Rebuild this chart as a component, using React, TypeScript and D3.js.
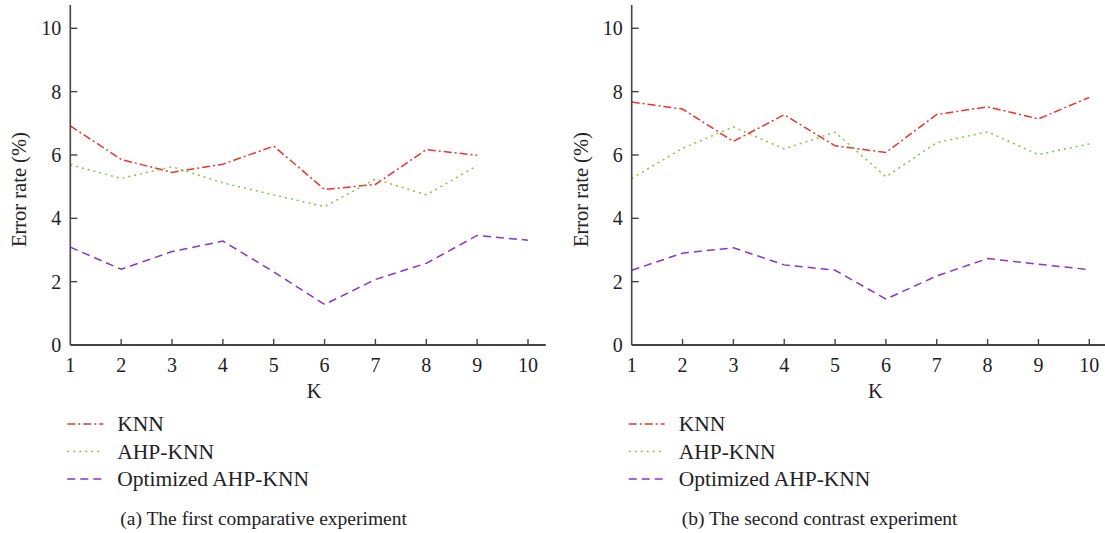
import React from "react";
import * as d3 from "d3";

// K values on the x axis
const ks = [1, 2, 3, 4, 5, 6, 7, 8, 9, 10];
const yTicks = [0, 2, 4, 6, 8, 10];

// (a) first comparative experiment
const knnA = [6.92, 5.86, 5.45, 5.71, 6.28, 4.91, 5.07, 6.17, 5.99];
const ahpA = [5.69, 5.26, 5.63, 5.12, 4.74, 4.37, 5.24, 4.74, 5.66];
const optA = [3.09, 2.39, 2.95, 3.28, 2.31, 1.28, 2.07, 2.58, 3.46, 3.31];

// (b) second contrast experiment
const knnB = [7.67, 7.45, 6.43, 7.27, 6.29, 6.08, 7.28, 7.52, 7.14, 7.82];
const ahpB = [5.26, 6.21, 6.89, 6.19, 6.72, 5.31, 6.39, 6.73, 6.01, 6.35];
const optB = [2.36, 2.9, 3.07, 2.53, 2.36, 1.45, 2.18, 2.73, 2.55, 2.38];

const seriesNames = ["KNN", "AHP-KNN", "Optimized AHP-KNN"];
const seriesColors = ["#e8352b", "#86c23a", "#8a35c8"];
const seriesDash = ["8,3,2,3", "2,4", "8,5"];

const font = "'Liberation Serif', 'Times New Roman', serif";
const axisColor = "#444";
const textColor = "#222";

function Panel({ left, right, data, caption }) {
  const top = 28.3;
  const bottom = 345;
  const x = d3.scaleLinear().domain([1, 10]).range([left, right]);
  const y = d3.scaleLinear().domain([0, 10]).range([bottom, top]);
  const axisEnd = right + (right - left) / 9 * 0.35;
  const line = d3
    .line<number>()
    .x((_, i) => x(ks[i]))
    .y((d) => y(d));

  return (
    <g>
      {data.map((vals, s) => (
        <path
          key={s}
          d={line(vals) || ""}
          fill="none"
          stroke={seriesColors[s]}
          strokeWidth={1.5}
          strokeDasharray={seriesDash[s]}
        />
      ))}
      {/* axes */}
      <line x1={left} x2={left} y1={5} y2={bottom} stroke={axisColor} strokeWidth={1.6} />
      <line x1={left} x2={axisEnd} y1={bottom} y2={bottom} stroke={axisColor} strokeWidth={1.8} />
      {yTicks.map((t) => (
        <g key={t}>
          {t > 0 && (
            <line x1={left} x2={left + 7} y1={y(t)} y2={y(t)} stroke={axisColor} strokeWidth={1.4} />
          )}
          <text x={left - 9} y={y(t) + 7} textAnchor="end" fontSize={20} fontFamily={font} fill={textColor}>
            {t}
          </text>
        </g>
      ))}
      {ks.map((k) => (
        <g key={k}>
          {k > 1 && (
            <line x1={x(k)} x2={x(k)} y1={bottom} y2={bottom - 6} stroke={axisColor} strokeWidth={1.4} />
          )}
          <text x={x(k)} y={372} textAnchor="middle" fontSize={20} fontFamily={font} fill={textColor}>
            {k}
          </text>
        </g>
      ))}
      <text x={(left + axisEnd) / 2 + 6} y={398} textAnchor="middle" fontSize={20.5} fontFamily={font} fill={textColor}>
        K
      </text>
      <text
        transform={`translate(${left - 44},${(top + bottom) / 2 + 3}) rotate(-90)`}
        textAnchor="middle"
        fontSize={20.5}
        fontFamily={font}
        fill={textColor}
      >
        Error rate (%)
      </text>
      {/* legend */}
      {seriesNames.map((name, s) => (
        <g key={name}>
          <line
            x1={left - 3}
            x2={left + 33}
            y1={424 + s * 27.5}
            y2={424 + s * 27.5}
            stroke={seriesColors[s]}
            strokeWidth={1.5}
            strokeDasharray={seriesDash[s]}
          />
          <text x={left + 47} y={431 + s * 27.5} fontSize={21.5} fontFamily={font} fill={textColor}>
            {name}
          </text>
        </g>
      ))}
      <text x={left + 50} y={525} fontSize={19.5} fontFamily={font} fill={textColor}>
        {caption}
      </text>
    </g>
  );
}

export default function App() {
  return (
    <svg
      width={1105}
      height={533}
      style={{ position: "absolute", left: 0, top: 0, background: "#fff" }}
    >
      <Panel left={70.3} right={528} data={[knnA, ahpA, optA]} caption="(a) The first comparative experiment" />
      <Panel left={631.7} right={1089.3} data={[knnB, ahpB, optB]} caption="(b) The second contrast experiment" />
    </svg>
  );
}
